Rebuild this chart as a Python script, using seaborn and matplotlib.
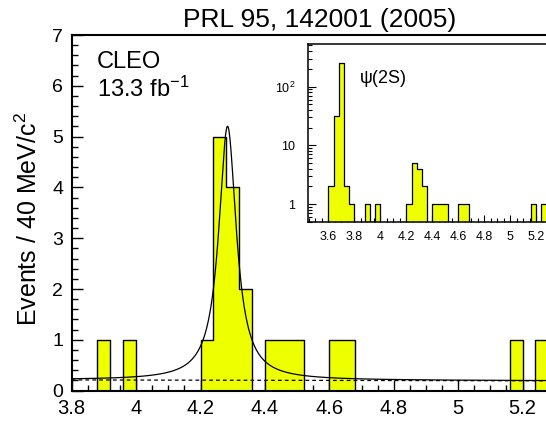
import numpy as np
import pandas as pd
import matplotlib
matplotlib.use("Agg")
import matplotlib.pyplot as plt
from matplotlib.ticker import MultipleLocator, FuncFormatter, LogLocator, NullFormatter
import seaborn as sns

# ---------------- data ----------------
# main histogram: low edge of each non-empty 40 MeV bin (GeV) and its count
main_bin_low = [3.88, 3.96, 4.20, 4.24, 4.28, 4.32, 4.40, 4.44, 4.48, 4.60, 4.64, 5.16, 5.24]
main_counts = [1, 1, 1, 5, 4, 2, 1, 1, 1, 1, 1, 1, 1]
# extra bins visible only in the inset (psi(2S) region)
psi_bin_low = [3.60, 3.64, 3.68, 3.72, 3.76]
psi_counts = [2, 32, 250, 2, 1]

# fitted Breit-Wigner + flat background (parameters)
bw_mass = 4.284
bw_width = 0.066
bw_peak = 5.0
bkg_left = 0.21   # at 3.8 GeV
bkg_right = 0.19  # at 5.5 GeV

main_xticks = [3.8, 4.0, 4.2, 4.4, 4.6, 4.8, 5.0, 5.2]
inset_xticks = [3.6, 3.8, 4.0, 4.2, 4.4, 4.6, 4.8, 5.0, 5.2]
inset_yticks = [1, 10, 100]
title = "PRL 95, 142001 (2005)"
ylabel = "Events / 40 MeV/c$\\mathregular{^2}$"
binw = 0.04

# ---------------- style ----------------
sns.set_style("white")
plt.rcParams["font.family"] = ["Liberation Sans", "DejaVu Sans"]
plt.rcParams["mathtext.fontset"] = "custom"
plt.rcParams["mathtext.rm"] = "Liberation Sans"
plt.rcParams["mathtext.it"] = "Liberation Sans:italic"
plt.rcParams["mathtext.bf"] = "Liberation Sans:bold"
for k in ["text.color", "axes.labelcolor", "xtick.color", "ytick.color", "axes.edgecolor"]:
    plt.rcParams[k] = "black"

FILL = "#EEFF00"
W, H = 546, 422
fig = plt.figure(figsize=(W / 100, H / 100), dpi=100)
fig.patch.set_facecolor("white")

# main axes: 3.8 at x=71.7 px, 322 px/GeV; y 0 at 390.6 px, 7 at 35 px
X0, X1 = 3.8, 5.5
ax = fig.add_axes([71.7 / W, (H - 390.6) / H, (X1 - X0) * 322 / W, (390.6 - 35) / H])

main_df = pd.DataFrame({"m": np.array(main_bin_low) + binw / 2, "n": main_counts})
sns.histplot(data=main_df, x="m", weights="n", binwidth=binw, binrange=(X0, X1 + 0.02),
             element="step", fill=True, color=FILL, edgecolor="black", linewidth=1.0,
             alpha=1, ax=ax, zorder=2)

xs = np.linspace(X0, X1, 1200)
bkg = bkg_left + (bkg_right - bkg_left) * (xs - X0) / (X1 - X0)
g2 = (bw_width / 2) ** 2
fit = bkg + bw_peak * g2 / ((xs - bw_mass) ** 2 + g2)
curve_df = pd.DataFrame({"m": xs, "fit": fit, "bkg": bkg})
sns.lineplot(data=curve_df, x="m", y="fit", color="black", linewidth=0.9,
             ax=ax, sort=False, estimator=None, zorder=3)
sns.lineplot(data=curve_df, x="m", y="bkg", color="black", linewidth=0.9,
             linestyle=(0, (3, 2.5)), ax=ax, sort=False, estimator=None, zorder=3)

ax.set_xlim(X0, X1)
ax.set_ylim(0, 7)
ax.set_xlabel("")
ax.set_ylabel("")
ax.set_xticks(main_xticks)
ax.xaxis.set_major_formatter(FuncFormatter(lambda v, p: f"{v:g}"))
ax.xaxis.set_minor_locator(MultipleLocator(0.05))
ax.yaxis.set_major_locator(MultipleLocator(1))
ax.yaxis.set_minor_locator(MultipleLocator(0.2))
ax.tick_params(which="both", direction="in", bottom=True, left=True, top=False,
               right=False, color="black", width=1.0, labelcolor="black")
ax.tick_params(which="major", length=8, labelsize=14, pad=6)
ax.tick_params(axis="x", which="major", labelsize=14.5)
ax.tick_params(which="minor", length=4)
for s in ax.spines.values():
    s.set_linewidth(1.5)
    s.set_color("black")

# ---------------- inset ----------------
IX0, IX1 = 3.44, 5.5
ax_in = fig.add_axes([307.7 / W, (H - 221.7) / H, (IX1 - IX0) * 129.8 / W, (221.7 - 44) / H])
ax_in.set_facecolor("white")
ax_in.set_zorder(5)
inset_df = pd.DataFrame({"m": np.array(psi_bin_low + main_bin_low) + binw / 2,
                         "n": psi_counts + main_counts})
sns.histplot(data=inset_df, x="m", weights="n", binwidth=binw, binrange=(3.44, IX1 + 0.02),
             element="step", fill=True, color=FILL, edgecolor="black", linewidth=0.9,
             alpha=1, ax=ax_in, zorder=2)
ax_in.set_yscale("log")
ax_in.set_xlim(IX0, IX1)
ax_in.set_ylim(0.5, 530)
ax_in.set_xlabel("")
ax_in.set_ylabel("")
ax_in.set_xticks(inset_xticks)
ax_in.xaxis.set_major_formatter(FuncFormatter(lambda v, p: f"{v:g}"))
ax_in.xaxis.set_minor_locator(MultipleLocator(0.05))
ax_in.set_yticks(inset_yticks)
ax_in.yaxis.set_major_formatter(FuncFormatter(
    lambda v, p: {1: "1", 10: "10", 100: "10$\\mathregular{^2}$"}.get(int(round(v)), "")))
ax_in.yaxis.set_minor_locator(LogLocator(base=10, subs=np.arange(2, 10)))
ax_in.yaxis.set_minor_formatter(NullFormatter())
ax_in.tick_params(which="both", direction="in", bottom=True, left=True, top=False,
                  right=False, color="black", width=0.8, labelcolor="black")
ax_in.tick_params(axis="x", which="major", length=5, labelsize=9, pad=7)
ax_in.tick_params(axis="y", which="major", length=6, labelsize=9, pad=9)
ax_in.tick_params(which="minor", length=3)
for s in ax_in.spines.values():
    s.set_linewidth(1.1)
    s.set_color("black")

# ---------------- texts ----------------
fig.text(320 / W, 1 - 27.3 / H, title, ha="center", va="baseline", fontsize=19)
fig.text(96.7 / W, 1 - 68.3 / H, "CLEO", ha="left", va="baseline", fontsize=17)
fig.text(96.7 / W, 1 - 96.7 / H, "13.3 fb$\\mathregular{^{-1}}$", ha="left",
         va="baseline", fontsize=17)
fig.text(360 / W, 1 - 83.3 / H, "\u03c8(2S)", ha="left", va="baseline",
         fontsize=13, zorder=10)
fig.text(29 / W, 1 - 219 / H, ylabel, ha="center", va="center", rotation=90,
         fontsize=18)

fig.savefig("out.png", dpi=100)
